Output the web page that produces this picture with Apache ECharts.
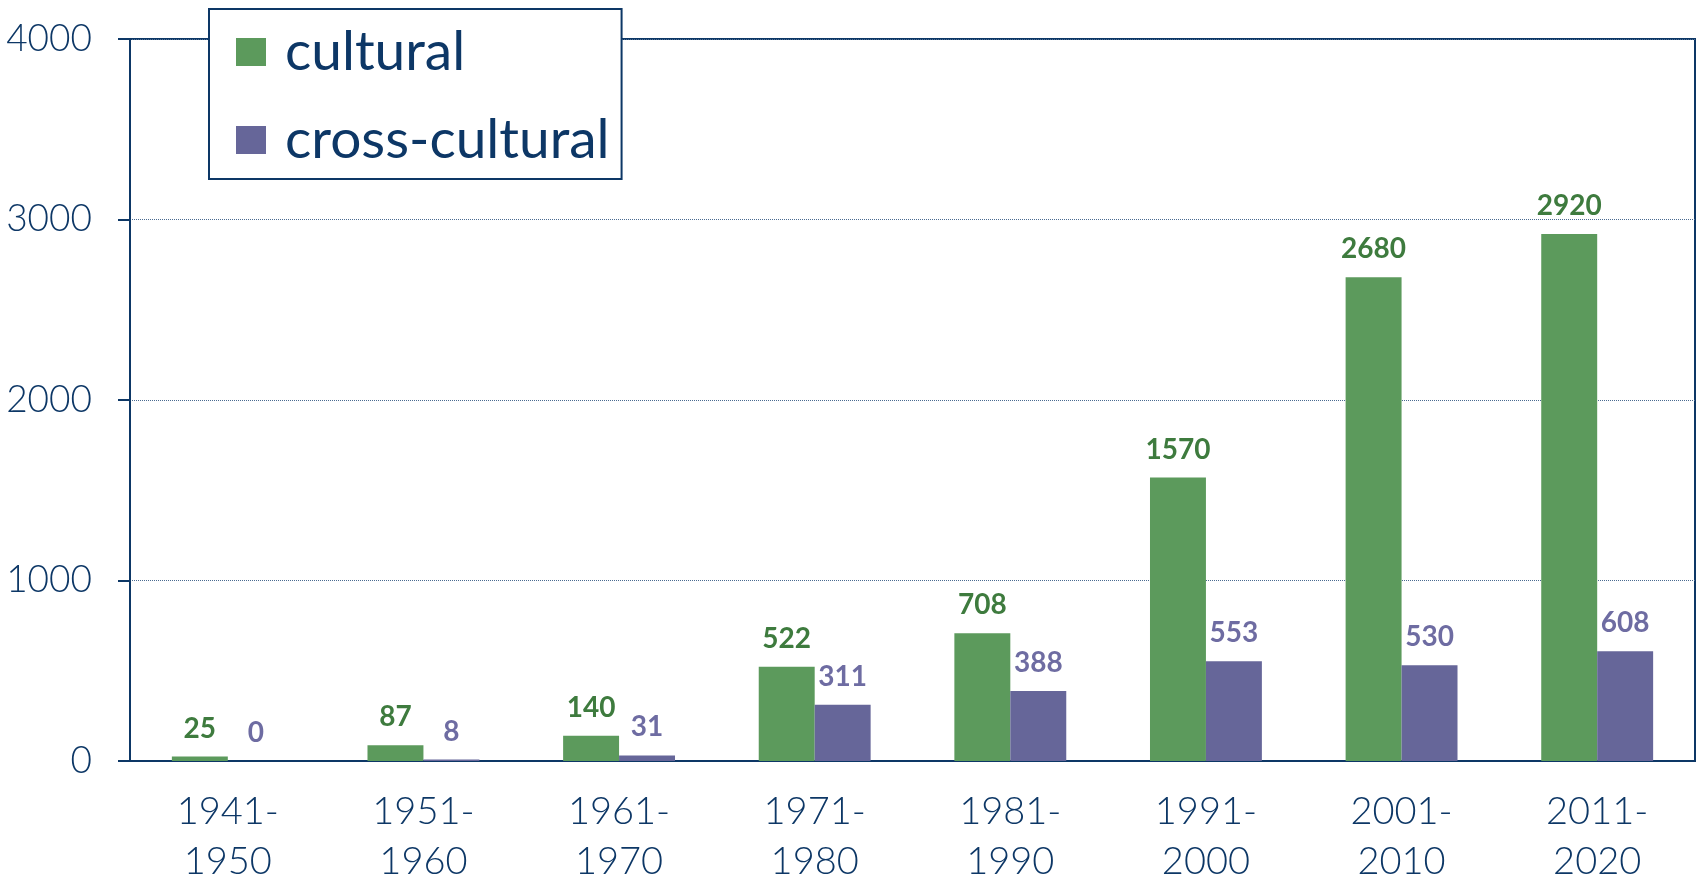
<!DOCTYPE html>
<html>
<head>
<meta charset="utf-8">
<title>cultural vs cross-cultural</title>
<script src="https://cdn.jsdelivr.net/npm/echarts@6/dist/echarts.min.js"></script>
<style>
    html, body { margin: 0; padding: 0; background: #fff; }
    #chart { width: 1697px; height: 878px; }
</style>
</head>
<body>
<div id="chart"></div>
<script>
var decades = ['1941-\n1950', '1951-\n1960', '1961-\n1970', '1971-\n1980',
               '1981-\n1990', '1991-\n2000', '2001-\n2010', '2011-\n2020'];
var cultural = [25, 87, 140, 522, 708, 1570, 2680, 2920];
var crossCultural = [0, 8, 31, 311, 388, 553, 530, 608];
var yTicks = [0, 1000, 2000, 3000, 4000];

var navy = '#0d3766';

var option = {
    animation: false,
    grid: {
        left: 130,
        right: 2,
        top: 39,
        bottom: 117,
        outerBoundsMode: 'none',
        containLabel: false,
        show: true,
        borderColor: navy,
        borderWidth: 2
    },
    legend: {
        orient: 'vertical',
        left: 209,
        top: 9,
        padding: [15, 12, 11, 27],
        itemGap: 32,
        itemWidth: 30,
        itemHeight: 28,
        icon: 'rect',
        backgroundColor: '#fff',
        borderColor: navy,
        borderWidth: 2,
        textStyle: {
            color: navy,
            fontFamily: 'Lato',
            fontSize: 55,
            lineHeight: 56,
            padding: [0, 0, 0, 14]
        },
        data: ['cultural', 'cross-cultural']
    },
    xAxis: {
        type: 'category',
        data: decades,
        axisLine: { lineStyle: { color: navy, width: 2 } },
        axisTick: { length: 12, lineStyle: { color: navy, width: 2 } },
        axisLabel: {
            color: navy,
            fontFamily: 'Lato',
            fontWeight: 300,
            fontSize: 38,
            lineHeight: 50,
            margin: 26
        }
    },
    yAxis: {
        type: 'value',
        min: yTicks[0],
        max: yTicks[yTicks.length - 1],
        interval: 1000,
        axisLine: { show: true, lineStyle: { color: navy, width: 2 } },
        axisTick: { show: true, length: 12, lineStyle: { color: navy, width: 2 } },
        axisLabel: {
            color: navy,
            fontFamily: 'Lato',
            fontWeight: 300,
            fontSize: 37,
            margin: 38,
            formatter: function (v) { return String(v); }
        },
        splitLine: { lineStyle: { color: '#4a6a90', type: 'dotted', width: 1 } }
    },
    series: [
        {
            name: 'cultural',
            type: 'bar',
            data: cultural,
            barWidth: '28.6%',
            barGap: '0%',
            itemStyle: { color: '#5c9a5c' },
            label: {
                show: true,
                position: 'top',
                distance: 14,
                color: '#3e7b3e',
                fontFamily: 'Lato',
                fontWeight: 'bold',
                fontSize: 28
            }
        },
        {
            name: 'cross-cultural',
            type: 'bar',
            data: crossCultural,
            barWidth: '28.6%',
            barGap: '0%',
            itemStyle: { color: '#666699' },
            label: {
                show: true,
                position: 'top',
                distance: 14,
                color: '#6e6ca2',
                fontFamily: 'Lato',
                fontWeight: 'bold',
                fontSize: 28
            }
        }
    ]
};

var myChart = echarts.init(document.getElementById('chart'));
myChart.setOption(option);
</script>
</body>
</html>
